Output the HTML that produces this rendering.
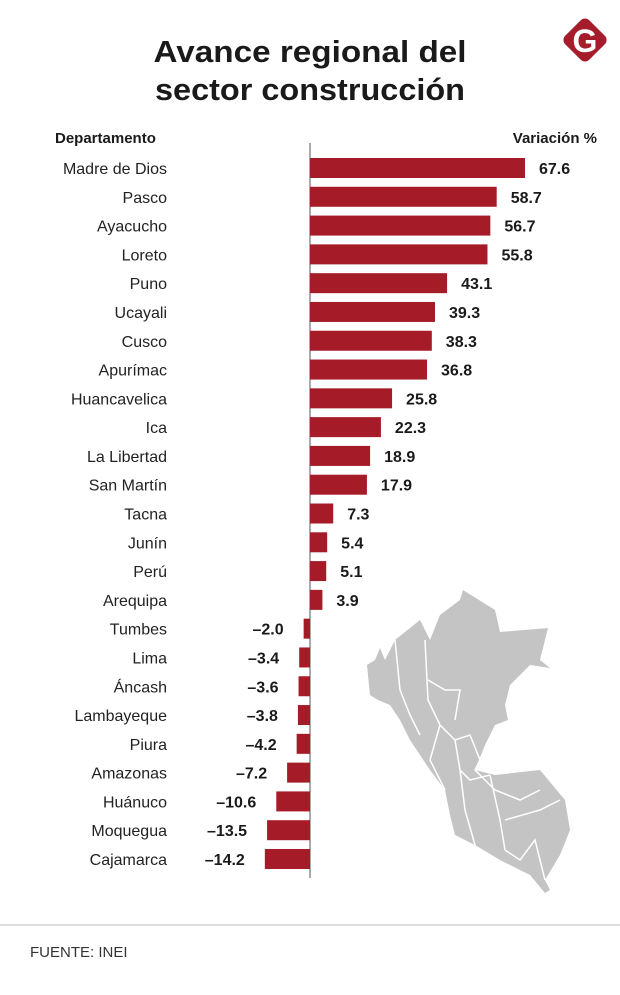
<!DOCTYPE html>
<html><head><meta charset="utf-8"><style>
html,body{margin:0;padding:0;background:#fff;}
svg{display:block;font-family:"Liberation Sans",sans-serif;}
</style></head><body>
<svg id="chart" width="620" height="995" viewBox="0 0 620 995">
<text x="310" y="62" text-anchor="middle" font-size="31" font-weight="bold" fill="#1a1a1a" textLength="313" lengthAdjust="spacingAndGlyphs">Avance regional del</text>
<text x="310" y="100" text-anchor="middle" font-size="31" font-weight="bold" fill="#1a1a1a" textLength="310" lengthAdjust="spacingAndGlyphs">sector construcción</text>
<g>
<rect x="568" y="23" width="34" height="34" rx="6" fill="#a51c2b" transform="rotate(45 585 40)"/>
<text x="585" y="52" text-anchor="middle" font-size="32" font-weight="bold" fill="#fff">G</text>
</g>
<text x="55" y="143" font-size="15" font-weight="bold" fill="#1a1a1a">Departamento</text>
<text x="597" y="143" text-anchor="end" font-size="15" font-weight="bold" fill="#1a1a1a">Variación %</text>
<g id="map">
<polygon fill="#c4c4c5" points="463,590 495,610 500,632 548,628 540,660 550,668 530,665 510,685 505,705 508,720 495,725 485,745 475,770 495,775 540,770 565,800 570,830 560,855 545,880 550,890 545,893 530,875 500,860 475,845 455,835 450,815 445,790 430,770 420,755 410,740 400,720 390,705 378,700 370,695 367,665 375,660 380,648 385,660 395,640 420,620 430,640 440,615 460,600"/>
<g fill="none" stroke="#fff" stroke-width="1.5">
<polyline points="425,640 428,700 440,725 455,740 470,735 480,760 475,770"/>
<polyline points="395,640 400,690 410,715 420,735"/>
<polyline points="428,680 445,690 460,690 455,720"/>
<polyline points="440,725 430,760 445,790"/>
<polyline points="455,740 460,770 470,780 490,775"/>
<polyline points="475,770 495,790 520,800 540,790"/>
<polyline points="490,775 500,820 505,850"/>
<polyline points="460,770 465,810 475,845"/>
<polyline points="505,850 520,860 535,840 545,880"/>
<polyline points="505,820 540,810 560,800"/>
</g>
</g>
<line id="axis" x1="310" y1="143" x2="310" y2="878" stroke="#555" stroke-width="1"/>
<g id="bars"></g>
<line x1="0" y1="925" x2="620" y2="925" stroke="#d0d0d0" stroke-width="1.5"/>
<text x="30" y="957" font-size="15" fill="#333">FUENTE: INEI</text>
</svg>
<script>
const categories = ["Madre de Dios","Pasco","Ayacucho","Loreto","Puno","Ucayali","Cusco","Apurímac","Huancavelica","Ica","La Libertad","San Martín","Tacna","Junín","Perú","Arequipa","Tumbes","Lima","Áncash","Lambayeque","Piura","Amazonas","Huánuco","Moquegua","Cajamarca"];
const values = [67.6,58.7,56.7,55.8,43.1,39.3,38.3,36.8,25.8,22.3,18.9,17.9,7.3,5.4,5.1,3.9,-2.0,-3.4,-3.6,-3.8,-4.2,-7.2,-10.6,-13.5,-14.2];
const NS = "http://www.w3.org/2000/svg";
const g = document.getElementById("bars");
const x0 = 310, scale = 215/67.6, y0 = 168, step = (859-168)/24, bh = 20;
function xPos(v){ return x0 + v*scale; }
function yPos(i){ return y0 + i*step; }
values.forEach((v,i)=>{
  const cy = yPos(i);
  const r = document.createElementNS(NS,"rect");
  r.setAttribute("x", Math.min(x0, xPos(v)));
  r.setAttribute("y", cy - bh/2);
  r.setAttribute("width", Math.abs(xPos(v)-x0));
  r.setAttribute("height", bh);
  r.setAttribute("fill", "#a51c28");
  
  
  g.appendChild(r);
  const l = document.createElementNS(NS,"text");
  l.setAttribute("x", 167);
  l.setAttribute("y", cy + 6);
  l.setAttribute("text-anchor", "end");
  l.setAttribute("font-size", "16");
  l.setAttribute("fill", "#222");
  l.textContent = categories[i];
  
  
  g.appendChild(l);
  const t = document.createElementNS(NS,"text");
  t.setAttribute("y", cy + 6);
  t.setAttribute("font-size", "16");
  t.setAttribute("font-weight", "bold");
  t.setAttribute("fill", "#1a1a1a");
  if (v >= 0) { t.setAttribute("x", xPos(v) + 14); }
  else { t.setAttribute("x", xPos(v) - 20); t.setAttribute("text-anchor", "end"); }
  t.textContent = (v < 0 ? "\u2013" + Math.abs(v).toFixed(1) : v.toFixed(1));
  
  
  g.appendChild(t);
});
</script>
</body></html>
